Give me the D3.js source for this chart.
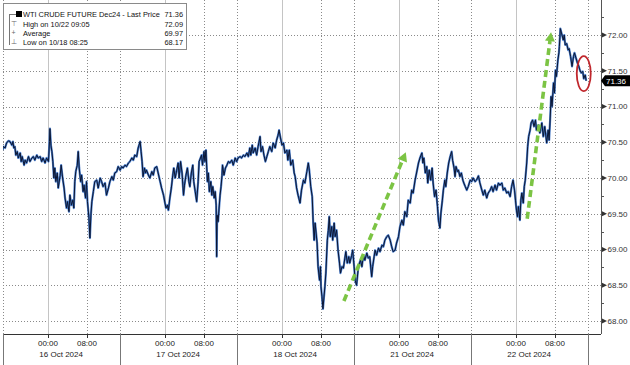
<!DOCTYPE html>
<html>
<head>
<meta charset="utf-8">
<script src="https://cdn.jsdelivr.net/npm/d3@7"></script>
<style>
  body { margin: 0; background: #fff; }
  svg { display: block; font-family: "Liberation Sans", Arial, sans-serif; }
</style>
</head>
<body>
<svg id="chart" width="630" height="365"></svg>
<script>
// session days shown on the x axis (weekend is skipped)
const days = ["16 Oct 2024", "17 Oct 2024", "18 Oct 2024", "21 Oct 2024", "22 Oct 2024"]
const timeLabels = [[0, "00:00"], [8, "08:00"]]
const sessionBreak = 14.7 // hour of day where Bloomberg draws the day separator
const yTicks = [68, 68.5, 69, 69.5, 70, 70.5, 71, 71.5, 72]

// [hours since 16 Oct 00:00 on the session clock, price]
const series = [
  [-9.3,70.39],[-9.2,70.44],[-8.8,70.42],[-8.5,70.49],[-8.1,70.52],[-7.8,70.51],[-7.4,70.46],[-7.2,70.51],[-7.0,70.42],[-6.8,70.44],
  [-6.6,70.32],[-6.3,70.37],[-6.1,70.28],[-5.7,70.35],[-5.5,70.23],[-5.3,70.30],[-4.9,70.18],[-4.7,70.25],[-4.4,70.21],[-4.0,70.30],
  [-3.7,70.23],[-3.3,70.28],[-3.0,70.30],[-2.7,70.25],[-2.3,70.32],[-2.0,70.28],[-1.6,70.30],[-1.3,70.23],[-1.0,70.28],[-0.6,70.21],
  [-0.3,70.28],[0.1,70.23],[0.3,70.51],[0.4,70.69],[0.6,70.46],[0.8,70.37],[1.0,70.23],[1.2,70.00],[1.4,70.14],[1.6,69.95],
  [1.9,70.07],[2.1,69.86],[2.5,70.04],[2.7,70.18],[3.0,70.00],[3.3,69.86],[3.5,69.72],[3.8,69.58],[4.0,69.67],[4.3,69.53],
  [4.5,69.76],[4.8,69.62],[5.1,69.69],[5.3,69.58],[5.5,69.95],[5.7,70.09],[6.0,70.18],[6.2,70.37],[6.4,70.14],[6.7,69.95],
  [6.9,70.04],[7.2,69.81],[7.4,69.90],[7.7,69.72],[7.9,69.95],[8.1,69.67],[8.4,69.44],[8.6,69.16],[8.8,69.48],[9.0,69.67],
  [9.3,69.81],[9.6,69.95],[10.0,69.97],[10.3,69.86],[10.7,70.00],
  [11.0,69.95],[11.3,69.88],[11.7,69.93],[12.0,69.76],[12.4,69.86],[12.7,69.95],[13.1,70.02],[13.4,69.97],[13.7,70.07],[14.1,70.09],
  [14.4,70.16],[14.8,70.11],[15.1,70.16],[15.4,70.14],[15.8,70.18],[16.1,70.16],[16.5,70.21],[16.8,70.23],[17.2,70.28],[17.5,70.25],
  [17.8,70.32],[18.2,70.30],[18.5,70.42],[18.9,70.51],[19.1,70.37],[19.3,70.23],[19.5,70.02],[19.8,70.14],[20.0,70.07],[20.2,70.11],
  [20.6,70.04],[20.9,70.00],[21.3,70.09],[21.6,70.04],[21.9,70.14],[22.3,70.16],[22.6,70.07],[23.0,69.95],[23.3,69.86],[23.7,69.76],
  [24.0,69.65],[24.2,69.58],[24.5,69.62],[24.7,69.55],[25.0,69.72],[25.3,69.86],[25.6,70.04],[25.8,70.14],[26.1,70.00],[26.4,70.11],
  [26.7,70.21],[26.9,70.00],[27.2,70.23],[27.5,70.07],[27.8,69.76],[28.0,69.90],[28.3,70.04],[28.6,70.14],[28.9,69.95],[29.1,69.88],
  [29.4,70.07],[29.7,70.18],[29.9,69.95],[30.2,69.81],[30.5,69.67],[30.8,69.95],[31.0,70.23],
  [31.5,70.32],[31.7,70.18],[32.0,70.37],[32.2,70.23],[32.4,70.39],[32.7,69.95],[32.9,70.07],[33.1,69.81],[33.4,69.95],[33.6,69.76],
  [33.8,69.88],[34.1,69.72],[34.3,69.81],[34.5,69.62],[34.6,68.90],[34.7,69.48],[34.9,69.39],[35.1,69.58],[35.3,69.76],[35.5,69.88],
  [35.7,70.04],[35.8,70.18],[36.1,70.04],[36.4,70.14],[36.7,70.18],[37.0,70.23],[37.3,70.21],[37.7,70.25],[38.0,70.18],[38.4,70.28],
  [38.7,70.23],[39.0,70.28],[39.4,70.30],[39.7,70.28],[40.1,70.32],[40.4,70.30],[40.8,70.35],[41.1,70.30],[41.4,70.42],[41.6,70.32],
  [41.9,70.46],[42.1,70.35],[42.5,70.42],[42.8,70.32],[43.1,70.44],[43.5,70.58],[43.7,70.37],[44.0,70.44],[44.3,70.32],[44.6,70.23],
  [44.9,70.30],[45.2,70.37],[45.5,70.44],[45.9,70.37],[46.2,70.49],[46.6,70.42],[46.9,70.53],[47.2,70.60],[47.4,70.67],[47.7,70.56],
  [48.0,70.46],[48.3,70.49],[48.6,70.35],[49.0,70.39],[49.2,70.25],[49.5,70.39],[49.8,70.18],[50.2,70.25],[50.5,70.07],[50.7,70.02],
  [51.0,69.86],[51.3,69.76],[51.7,69.65],
  [52.0,69.83],[52.4,69.97],[52.7,69.93],[53.1,70.09],[53.4,70.21],[53.6,70.11],[53.9,69.88],[54.2,69.74],[54.4,69.37],[54.6,69.13],
  [54.8,69.37],[55.0,69.23],[55.2,69.09],[55.4,68.76],[55.7,68.57],[55.9,68.76],[56.0,68.48],[56.2,68.34],[56.4,68.17],[56.8,68.48],
  [57.0,68.67],[57.3,69.13],[57.5,69.27],[57.7,69.46],[57.9,69.18],[58.2,69.32],[58.4,69.13],[58.7,69.37],[58.9,69.18],[59.2,69.27],
  [59.5,68.99],[59.8,68.81],[60.0,68.67],[60.3,68.76],[60.6,68.74],[60.9,68.88],[61.1,68.97],[61.4,68.81],[61.7,68.90],[61.9,68.81],
  [62.3,68.92],[62.5,68.99],[62.8,68.76],[63.0,68.57],[63.3,68.50],[63.6,68.71],[63.9,68.81],[64.1,68.85],[64.4,68.76],[64.7,68.92],
  [65.0,68.85],[65.4,68.95],[65.7,68.88],[66.0,68.90],[66.4,68.62],[66.6,68.76],[66.9,68.90],[67.1,68.99],[67.4,68.92],[67.8,69.02],
  [68.1,68.97],[68.5,69.06],[68.8,69.04],[69.1,69.13],[69.5,69.18],[69.8,69.20],[70.2,69.13],[70.5,69.04],[70.8,68.97],[71.2,68.99],
  [71.5,69.09],[71.9,69.18],[72.2,69.32],
  [72.6,69.41],[72.9,69.34],[73.2,69.53],[73.6,69.46],[73.9,69.69],[74.3,69.65],[74.6,69.83],[74.9,69.79],[75.3,69.97],[75.6,70.07],
  [76.0,70.21],[76.3,70.28],[76.7,70.35],[76.9,70.21],[77.1,70.28],[77.4,70.07],[77.7,70.16],[77.9,69.93],[78.2,70.11],[78.5,69.97],
  [78.8,70.14],[79.0,69.93],[79.3,69.74],[79.6,69.83],[79.9,69.60],[80.1,69.41],[80.4,69.30],[80.6,69.51],[80.9,69.69],[81.1,69.83],
  [81.4,69.97],[81.6,69.88],[81.9,70.07],[82.2,70.21],[82.5,70.30],[82.8,70.37],[83.0,70.25],[83.3,70.14],[83.5,70.02],[83.7,70.16],
  [84.0,70.09],[84.2,70.11],[84.5,70.02],[84.8,70.07],[85.1,69.97],[85.3,69.93],[85.6,69.88],[85.9,69.83],[86.2,69.88],[86.6,69.97],
  [86.9,69.95],[87.2,70.00],[87.6,69.95],[87.9,69.97],[88.3,70.03],[88.6,69.93],[89.0,69.83],[89.3,69.76],[89.6,69.83],[90.0,69.72],
  [90.3,69.79],[90.7,69.83],[91.0,69.88],[91.3,69.81],[91.7,69.90],[92.0,69.83],[92.4,69.93],[92.7,69.90],
  [93.1,69.93],[93.4,69.83],[93.7,69.86],[94.1,69.79],[94.4,69.81],[94.8,69.74],[95.1,69.88],[95.4,69.97],[95.7,69.83],[95.9,69.69],
  [96.1,69.55],[96.3,69.46],[96.5,69.60],[96.8,69.41],[97.0,69.69],[97.2,69.79],[97.5,69.65],[97.7,69.88],[97.9,69.97],[98.2,70.21],
  [98.4,70.44],[98.6,70.58],[98.9,70.67],[99.1,70.77],[99.4,70.81],[99.7,70.72],[100.0,70.81],[100.2,70.67],[100.6,70.74],[100.9,70.63],
  [101.3,70.77],[101.6,70.58],[101.9,70.72],[102.3,70.49],[102.6,70.67],[102.8,70.53],[103.0,70.81],[103.2,71.14],[103.4,71.00],[103.7,71.33],
  [103.9,71.19],[104.1,71.51],[104.3,71.42],[104.6,71.65],[104.8,71.75],[104.9,71.84],[105.0,71.96],[105.1,72.09],[105.7,71.93],[105.9,72.00],
  [106.1,71.86],[106.4,71.88],[106.7,71.79],[106.9,71.81],[107.2,71.70],[107.5,71.56],[107.8,71.70],[108.0,71.75],[108.3,71.68],[108.6,71.61],
  [108.9,71.56],[109.1,71.51],[109.4,71.47],[109.7,71.49],[109.9,71.39],[110.2,71.44],[110.4,71.36]
]

const legendLabels = ["WTI CRUDE FUTURE Dec24 - Last Price", "High on 10/22 09:05", "Average", "Low on 10/18 08:25"]
const legendValues = ["71.36", "72.09", "69.97", "68.17"]
const lastPrice = 71.36

// annotations drawn on the chart: [from, to] in [hours, price]
const arrows = [
  [[60.7, 68.28], [73.4, 70.36]],
  [[98.3, 69.43], [103.2, 72.04]]
]
const circled = [109.9, 71.46]

const width = 630, height = 365
const plotLeft = 3, plotRight = 601, axisY = 334

const x = d3.scaleLinear().domain([-9.23, 113.44]).range([plotLeft, plotRight])
const y = d3.scaleLinear().domain([68, 72]).range([321, 35])

const svg = d3.select("#chart")
svg.append("rect").attr("width", width).attr("height", height).attr("fill", "#fff")

//BEGIN: GRID
const grid = svg.append("g")
grid.selectAll("line.h").data(yTicks).join("line")
  .attr("x1", plotLeft).attr("x2", plotRight)
  .attr("y1", d => Math.round(y(d)) + .5).attr("y2", d => Math.round(y(d)) + .5)
  .attr("stroke", "#8a8a8a").attr("stroke-dasharray", "1,2")

const dayStarts = days.map((d, i) => i * 24)
grid.selectAll("line.day").data(dayStarts).join("line")
  .attr("x1", d => Math.round(x(d)) + .5).attr("x2", d => Math.round(x(d)) + .5)
  .attr("y1", 0).attr("y2", axisY)
  .attr("stroke", "#c4c4c4")

const dotted = dayStarts.map(d => d + 8).concat(d3.range(-1, days.length).map(i => i * 24 + sessionBreak))
grid.selectAll("line.dot").data(dotted).join("line")
  .attr("x1", d => Math.round(x(d)) + .5).attr("x2", d => Math.round(x(d)) + .5)
  .attr("y1", 0).attr("y2", axisY)
  .attr("stroke", "#8a8a8a").attr("stroke-dasharray", "1,2")
//END: GRID

//BEGIN: PRICE LINE
const line = d3.line().x(d => x(d[0])).y(d => y(d[1]))
svg.append("defs").append("clipPath").attr("id", "clip")
  .append("rect").attr("x", plotLeft).attr("y", 0).attr("width", plotRight - plotLeft).attr("height", axisY)
const lines = svg.append("g").attr("clip-path", "url(#clip)")
lines.append("path").datum(series).attr("d", line)
  .attr("fill", "none").attr("stroke", "#4a7cc8").attr("stroke-width", 2.2).attr("stroke-linejoin", "round")
lines.append("path").datum(series).attr("d", line)
  .attr("fill", "none").attr("stroke", "#0b1633").attr("stroke-width", 1).attr("stroke-linejoin", "round")
//END: PRICE LINE

//BEGIN: ANNOTATIONS
const green = "#7cc444"
arrows.forEach(([from, to]) => {
  let x0 = x(from[0]), y0 = y(from[1]), x1 = x(to[0]), y1 = y(to[1])
  let ang = Math.atan2(y1 - y0, x1 - x0)
  let headLen = 9, headW = 5
  let bx = x1 - headLen * Math.cos(ang), by = y1 - headLen * Math.sin(ang)
  svg.append("line").attr("x1", x0).attr("y1", y0).attr("x2", bx).attr("y2", by)
    .attr("stroke", green).attr("stroke-width", 3.6).attr("stroke-dasharray", "7,4")
  let px = -Math.sin(ang) * headW, py = Math.cos(ang) * headW
  svg.append("path")
    .attr("d", `M${x1},${y1}L${bx + px},${by + py}L${bx - px},${by - py}Z`)
    .attr("fill", green)
})
svg.append("ellipse")
  .attr("cx", x(circled[0])).attr("cy", y(circled[1])).attr("rx", 7).attr("ry", 17.5)
  .attr("fill", "none").attr("stroke", "#c0272d").attr("stroke-width", 1.8)
//END: ANNOTATIONS

//BEGIN: Y AXIS
const yAxis = svg.append("g").attr("transform", `translate(${plotRight},0)`)
yAxis.append("line").attr("x1", .5).attr("x2", .5).attr("y1", 0).attr("y2", axisY).attr("stroke", "#555")
let minor = d3.range(68.25, 72.3, 0.5)
yAxis.selectAll("line.minor").data(minor).join("line")
  .attr("x1", 0).attr("x2", 3).attr("y1", d => Math.round(y(d)) + .5).attr("y2", d => Math.round(y(d)) + .5)
  .attr("stroke", "#555")
yAxis.selectAll("path.tri").data(yTicks).join("path")
  .attr("d", d => `M1,${y(d)}L6,${y(d) - 2.5}L6,${y(d) + 2.5}Z`)
  .attr("transform", d => `rotate(180,3.5,${y(d)})`)
  .attr("fill", "#333")
yAxis.selectAll("text").data(yTicks).join("text")
  .attr("x", 6.5).attr("y", d => y(d)).attr("dy", "0.35em")
  .attr("font-size", 8).attr("fill", "#333")
  .text(d => d3.format(".2f")(d))

let by = y(lastPrice)
yAxis.append("path")
  .attr("d", `M0,${by}L4,${by - 5.5}L29,${by - 5.5}L29,${by + 5.5}L4,${by + 5.5}Z`)
  .attr("fill", "#000")
yAxis.append("text").attr("x", 5).attr("y", by).attr("dy", "0.35em")
  .attr("font-size", 8).attr("fill", "#fff").text(d3.format(".2f")(lastPrice))
//END: Y AXIS

//BEGIN: X AXIS
const xAxis = svg.append("g")
xAxis.append("line").attr("x1", plotLeft).attr("x2", plotRight).attr("y1", axisY + .5).attr("y2", axisY + .5).attr("stroke", "#333")
let sep = d3.range(-1, days.length).map(i => i * 24 + sessionBreak)
xAxis.selectAll("line.sep").data(sep).join("line")
  .attr("x1", d => Math.round(x(d)) + .5).attr("x2", d => Math.round(x(d)) + .5)
  .attr("y1", axisY).attr("y2", height).attr("stroke", "#777")
let tl = []
days.forEach((d, i) => timeLabels.forEach(t => tl.push([i * 24 + t[0], t[1]])))
xAxis.selectAll("line.tick").data(tl).join("line")
  .attr("x1", d => Math.round(x(d[0])) + .5).attr("x2", d => Math.round(x(d[0])) + .5)
  .attr("y1", axisY).attr("y2", axisY + 4).attr("stroke", "#333")
xAxis.selectAll("text.time").data(tl).join("text")
  .attr("x", d => x(d[0])).attr("y", axisY + 12)
  .attr("text-anchor", "middle").attr("font-size", 8).attr("fill", "#222")
  .text(d => d[1])
xAxis.selectAll("text.date").data(days).join("text")
  .attr("x", (d, i) => (x(i * 24 + sessionBreak - 24) + x(i * 24 + sessionBreak)) / 2)
  .attr("y", axisY + 23)
  .attr("text-anchor", "middle").attr("font-size", 8).attr("fill", "#222")
  .text(d => d)
//END: X AXIS

//BEGIN: LEGEND
const lg = svg.append("g")
lg.append("rect").attr("x", 3.5).attr("y", 3.5).attr("width", 183).attr("height", 46)
  .attr("fill", "#fff").attr("stroke", "#8a8a8a")
const rowY = [14, 24, 33, 42]
lg.append("line").attr("x1", 9.5).attr("x2", 9.5).attr("y1", rowY[0]).attr("y2", rowY[3] + 3).attr("stroke", "#777")
lg.append("line").attr("x1", 9.5).attr("x2", 16).attr("y1", rowY[0] + .5).attr("y2", rowY[0] + .5).attr("stroke", "#777")
lg.append("rect").attr("x", 16).attr("y", rowY[0] - 3).attr("width", 6).attr("height", 6).attr("fill", "#000")
lg.selectAll("text.mark").data(["\u22a4", "+", "\u22a5"]).join("text")
  .attr("x", 13.5).attr("y", (d, i) => rowY[i + 1]).attr("dy", "0.35em")
  .attr("text-anchor", "middle").attr("font-size", 7).attr("fill", "#666").text(d => d)
lg.selectAll("text.label").data(legendLabels).join("text")
  .attr("x", 23).attr("y", (d, i) => rowY[i]).attr("dy", "0.35em")
  .attr("font-size", 7.4).attr("fill", "#111").text(d => d)
lg.selectAll("text.value").data(legendValues).join("text")
  .attr("x", 183).attr("y", (d, i) => rowY[i]).attr("dy", "0.35em")
  .attr("text-anchor", "end").attr("font-size", 7.4).attr("fill", "#111").text(d => d)
//END: LEGEND
</script>
</body>
</html>
